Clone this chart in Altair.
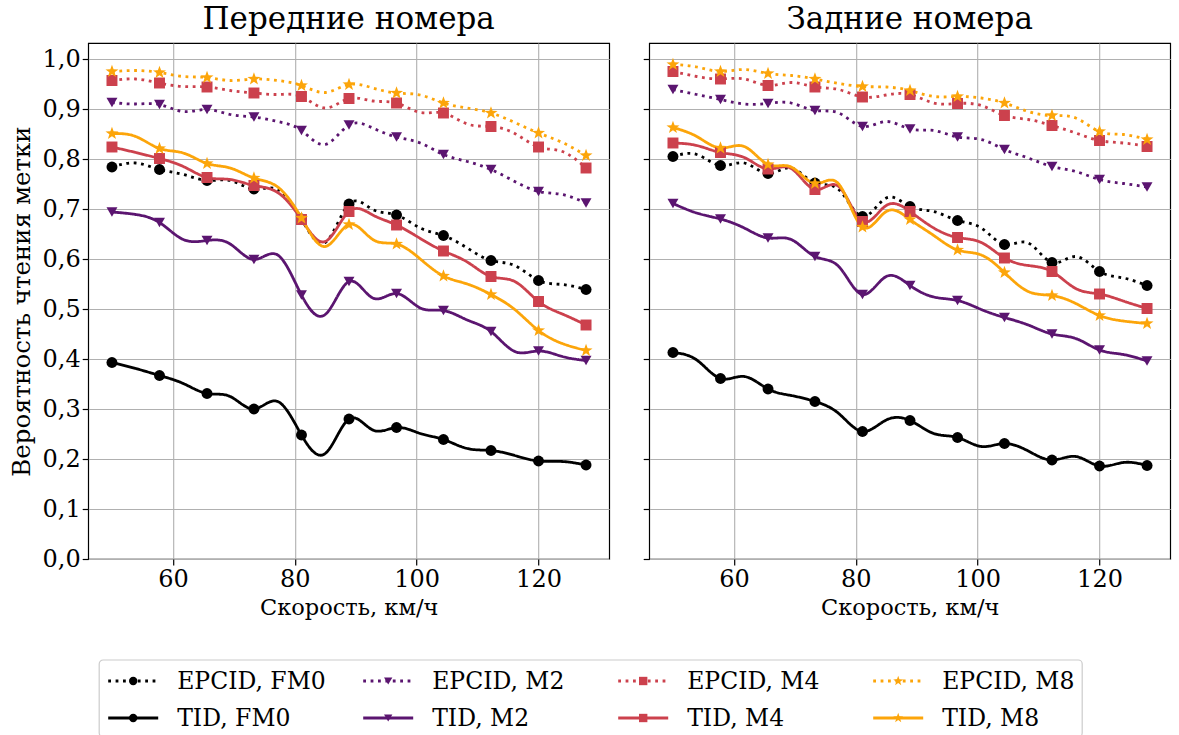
import math
import altair as alt
import pandas as pd

# ---------------- data ----------------
speeds = [50.0, 53.9, 57.8, 61.7, 65.6, 69.4, 73.3, 77.2, 81.1, 85.0, 88.9,
          92.8, 96.7, 100.6, 104.4, 108.3, 112.2, 116.1, 120.0, 123.9, 127.8]

front_epcid_fm0 = [0.784, 0.792, 0.779, 0.769, 0.757, 0.757, 0.740, 0.739, 0.680, 0.633, 0.710,
                   0.699, 0.688, 0.662, 0.647, 0.622, 0.597, 0.587, 0.557, 0.549, 0.539]
front_epcid_m2 = [0.913, 0.910, 0.909, 0.895, 0.899, 0.889, 0.884, 0.875, 0.857, 0.829, 0.868,
                  0.862, 0.844, 0.832, 0.809, 0.795, 0.779, 0.755, 0.735, 0.729, 0.712]
front_epcid_m4 = [0.957, 0.960, 0.952, 0.945, 0.944, 0.937, 0.932, 0.929, 0.925, 0.902, 0.921,
                  0.916, 0.912, 0.893, 0.892, 0.870, 0.865, 0.851, 0.824, 0.815, 0.782]
front_epcid_m8 = [0.975, 0.977, 0.973, 0.965, 0.963, 0.957, 0.960, 0.957, 0.947, 0.933, 0.949,
                  0.942, 0.932, 0.928, 0.912, 0.902, 0.892, 0.873, 0.852, 0.833, 0.807]
front_tid_fm0 = [0.393, 0.381, 0.367, 0.351, 0.331, 0.325, 0.300, 0.315, 0.248, 0.211, 0.280,
                 0.258, 0.263, 0.251, 0.239, 0.221, 0.217, 0.207, 0.196, 0.195, 0.188]
front_tid_m2 = [0.694, 0.689, 0.673, 0.639, 0.637, 0.630, 0.599, 0.608, 0.528, 0.489, 0.555,
                0.522, 0.531, 0.502, 0.497, 0.478, 0.455, 0.415, 0.416, 0.405, 0.397]
front_tid_m4 = [0.824, 0.813, 0.801, 0.785, 0.763, 0.759, 0.747, 0.733, 0.679, 0.635, 0.695,
                0.688, 0.668, 0.641, 0.616, 0.594, 0.565, 0.555, 0.515, 0.490, 0.468]
front_tid_m8 = [0.851, 0.845, 0.821, 0.812, 0.791, 0.782, 0.762, 0.744, 0.682, 0.625, 0.669,
                0.639, 0.630, 0.600, 0.566, 0.550, 0.529, 0.499, 0.457, 0.431, 0.417]

rear_epcid_fm0 = [0.805, 0.809, 0.787, 0.792, 0.771, 0.782, 0.752, 0.739, 0.685, 0.722, 0.705,
                  0.695, 0.677, 0.662, 0.629, 0.632, 0.593, 0.605, 0.575, 0.562, 0.547]
rear_epcid_m2 = [0.939, 0.929, 0.919, 0.910, 0.911, 0.912, 0.897, 0.892, 0.865, 0.875, 0.860,
                 0.857, 0.844, 0.839, 0.819, 0.802, 0.785, 0.775, 0.759, 0.751, 0.744]
rear_epcid_m4 = [0.975, 0.965, 0.960, 0.960, 0.947, 0.953, 0.944, 0.939, 0.924, 0.928, 0.929,
                 0.912, 0.911, 0.907, 0.887, 0.879, 0.867, 0.852, 0.837, 0.832, 0.825]
rear_epcid_m8 = [0.989, 0.984, 0.975, 0.979, 0.971, 0.967, 0.960, 0.951, 0.945, 0.944, 0.937,
                 0.925, 0.925, 0.922, 0.912, 0.895, 0.887, 0.882, 0.855, 0.849, 0.839]
rear_tid_fm0 = [0.413, 0.398, 0.361, 0.365, 0.340, 0.327, 0.315, 0.291, 0.255, 0.278, 0.277,
                0.251, 0.243, 0.225, 0.231, 0.216, 0.198, 0.205, 0.186, 0.193, 0.187]
rear_tid_m2 = [0.711, 0.692, 0.680, 0.662, 0.642, 0.639, 0.605, 0.585, 0.529, 0.565, 0.547,
               0.524, 0.517, 0.499, 0.483, 0.468, 0.450, 0.441, 0.418, 0.409, 0.396]
rear_tid_m4 = [0.832, 0.827, 0.813, 0.803, 0.780, 0.781, 0.739, 0.745, 0.675, 0.707, 0.695,
               0.662, 0.643, 0.633, 0.602, 0.587, 0.575, 0.541, 0.530, 0.516, 0.501]
rear_tid_m8 = [0.863, 0.845, 0.822, 0.825, 0.789, 0.784, 0.751, 0.750, 0.664, 0.695, 0.679,
               0.647, 0.618, 0.608, 0.573, 0.535, 0.527, 0.511, 0.487, 0.476, 0.471]

panel_titles = ["Передние номера", "Задние номера"]
series_names = ["EPCID, FM0", "TID, FM0", "EPCID, M2", "TID, M2",
                "EPCID, M4", "TID, M4", "EPCID, M8", "TID, M8"]
legend_order = ["EPCID, FM0", "EPCID, M2", "EPCID, M4", "EPCID, M8",
                "TID, FM0", "TID, M2", "TID, M4", "TID, M8"]
front_values = [front_epcid_fm0, front_tid_fm0, front_epcid_m2, front_tid_m2,
                front_epcid_m4, front_tid_m4, front_epcid_m8, front_tid_m8]
rear_values = [rear_epcid_fm0, rear_tid_fm0, rear_epcid_m2, rear_tid_m2,
               rear_epcid_m4, rear_tid_m4, rear_epcid_m8, rear_tid_m8]
y_ticks = [0.0, 0.1, 0.2, 0.3, 0.4, 0.5, 0.6, 0.7, 0.8, 0.9, 1.0]
x_ticks = [60, 80, 100, 120]

# ---------------- styles ----------------
FONT = "DejaVu Serif"
mod_colors = {"FM0": "#000000", "M2": "#5b1570", "M4": "#cc414d", "M8": "#fca50a"}
LW = 2.8
DOT = [2.8, 4.6]
LEG_W, LEG_H = 983, 77


def star_path(r_out, r_in):
    pts = []
    for k in range(10):
        r = r_out if k % 2 == 0 else r_in
        a = -math.pi / 2 + k * math.pi / 5
        pts.append(f"{r * math.cos(a):.3f},{r * math.sin(a):.3f}")
    return "M" + "L".join(pts) + "Z"


mod_shapes = {"FM0": "circle", "M2": "triangle-down", "M4": "square",
              "M8": star_path(1.25, 0.5)}


def mod_of(s):
    return s.split(", ")[1]


colors = [mod_colors[mod_of(s)] for s in legend_order]
dashes = [DOT if s.startswith("EPCID") else [1, 0] for s in legend_order]
shapes = [mod_shapes[mod_of(s)] for s in legend_order]

cscale = alt.Scale(domain=legend_order, range=colors)
dscale = alt.Scale(domain=legend_order, range=dashes)
sscale = alt.Scale(domain=legend_order, range=shapes)

rows = []
for panel, vals in zip(panel_titles, [front_values, rear_values]):
    for s, v in zip(series_names, vals):
        for i, (x, y) in enumerate(zip(speeds, v)):
            rows.append({"panel": panel, "series": s, "speed": x, "value": y,
                         "marker": i % 2 == 0})
df = pd.DataFrame(rows)


def panel_chart(title, first):
    data = df[df["panel"] == title]
    x_enc = alt.X("speed:Q",
                  scale=alt.Scale(domain=[46.1, 131.6], nice=False, zero=False),
                  axis=alt.Axis(values=x_ticks, title="Скорость, км/ч", format="d",
                                titleFontSize=22.5))
    y_axis = alt.Axis(values=y_ticks, title="Вероятность чтения метки" if first else None,
                      labels=first, titleFontSize=24.5, titlePadding=8,
                      labelExpr="replace(format(datum.value, '.1f'), '.', ',')")
    y_enc = alt.Y("value:Q", scale=alt.Scale(domain=[0, 1.032], nice=False), axis=y_axis)
    base = alt.Chart(data)
    lines = base.mark_line(interpolate="natural", strokeWidth=LW).encode(
        x=x_enc, y=y_enc,
        color=alt.Color("series:N", scale=cscale, legend=None),
        strokeDash=alt.StrokeDash("series:N", scale=dscale, legend=None),
        detail="series:N")
    pts = base.transform_filter("datum.marker").mark_point(
        filled=True, size=120, opacity=1).encode(
        x=x_enc, y=y_enc,
        color=alt.Color("series:N", scale=cscale, legend=None),
        shape=alt.Shape("series:N", scale=sscale, legend=None))
    return alt.layer(lines, pts).properties(
        width=521, height=516,
        title=alt.TitleParams(title, font=FONT, fontSize=31, fontWeight="normal",
                              color="black", offset=7))


# ---------------- hand-made legend (matplotlib style: line + marker) ----------------
leg_df = pd.DataFrame({
    "series": legend_order,
    "col": [i % 4 for i in range(len(legend_order))],
    "row": [i // 4 for i in range(len(legend_order))],
})
lx = alt.X("col:O", scale=alt.Scale(type="point", domain=[0, 1, 2, 3], range=[9, 774],
                                    padding=0), axis=None)
lx2 = alt.X2("col:O")
ly = alt.Y("row:O", scale=alt.Scale(type="point", domain=[0, 1], range=[21, 58], padding=0),
           axis=None)
lbase = alt.Chart(leg_df)
leg_frame = alt.Chart(leg_df).transform_filter("datum.col == 0 && datum.row == 0").mark_rect(
    fill="white", stroke="#cccccc", strokeWidth=1.2, cornerRadius=4).encode(
    x=alt.value(0), x2=alt.value(LEG_W), y=alt.value(0), y2=alt.value(LEG_H))
leg_lines = lbase.mark_rule(strokeWidth=LW, x2Offset=50).encode(
    x=lx, x2=lx2, y=ly,
    color=alt.Color("series:N", scale=cscale, legend=None),
    strokeDash=alt.StrokeDash("series:N", scale=dscale, legend=None))
leg_pts = lbase.mark_point(filled=True, size=70, opacity=1, xOffset=25).encode(
    x=lx, y=ly,
    color=alt.Color("series:N", scale=cscale, legend=None),
    shape=alt.Shape("series:N", scale=sscale, legend=None))
leg_text = lbase.mark_text(align="left", baseline="middle", xOffset=69, dy=1,
                           font=FONT, fontSize=23.5, color="black").encode(
    x=lx, y=ly, text="series:N")
# the concat centres on the plot areas, so the legend view is widened to put its
# frame where the reference has it
legend_chart = alt.layer(leg_frame, leg_lines, leg_pts, leg_text).properties(
    width=1060, height=LEG_H,
    view=alt.ViewBackground(stroke="transparent", fill="transparent"))

panels = alt.hconcat(panel_chart(panel_titles[0], True),
                     panel_chart(panel_titles[1], False), spacing=31)

chart = alt.vconcat(panels, legend_chart, spacing=38, center=True).properties(
    padding={"left": 8, "top": 3, "right": 2, "bottom": 0},
    background="white",
).configure_view(stroke="black", strokeWidth=1.2).configure_axis(
    grid=True, gridColor="#b0b0b0", gridWidth=1.1, domain=False,
    tickColor="black", tickSize=6, tickWidth=1.2,
    labelFont=FONT, labelFontSize=24, labelColor="black", labelPadding=2,
    titleFont=FONT, titleFontWeight="normal", titleColor="black",
    titlePadding=5,
).configure_title(anchor="middle").configure_concat(spacing=31)

chart.save("out.html", embed_options={"renderer": "svg", "actions": False})
